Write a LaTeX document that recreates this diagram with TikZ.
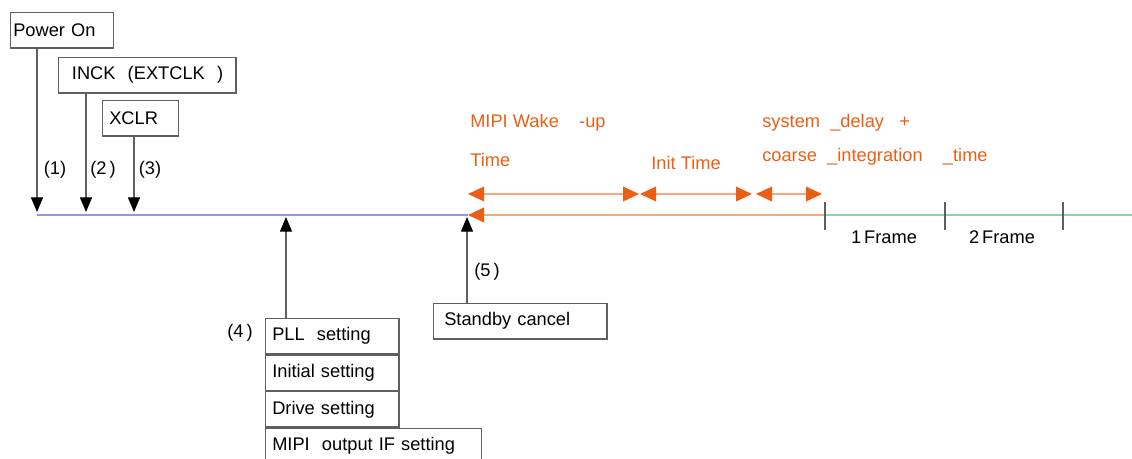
\documentclass[tikz,border=0pt]{standalone}
\usepackage{fontspec}
\setmainfont{Liberation Sans}
\usepackage{xcolor}
\usepackage{tikz}
\usetikzlibrary{positioning, arrows.meta}

\definecolor{lineblue}{RGB}{150,150,225}
\definecolor{lineorange}{RGB}{245,170,135}
\definecolor{linegreen}{RGB}{140,210,170}
\definecolor{darkorange}{RGB}{235,95,20}
\definecolor{boxgray}{RGB}{95,95,95}

\begin{document}
\begin{tikzpicture}[x=0.75pt, y=-0.75pt, font=\fontsize{13.7}{16}\selectfont,
    box/.style={draw=boxgray, line width=0.9pt, anchor=north west, inner xsep=5pt, inner ysep=0pt, minimum height=26.5pt, align=left},
    sig/.style={draw=boxgray, line width=0.9pt, -{Triangle[length=11pt,width=9pt,color=black]}},
    span/.style={draw=lineorange, line width=1pt, {Triangle[length=12pt,width=11pt,color=darkorange]}-{Triangle[length=12pt,width=11pt,color=darkorange]}},
    olabel/.style={text=darkorange, anchor=west, inner sep=0pt}]
       \useasboundingbox (0,0) rectangle (1132,458);
       \clip (0,0) rectangle (1132,458);

       % timeline
       \coordinate (t0) at (37,215);
       \coordinate (wake) at (468,215);
       \coordinate (f0) at (825,215);
       \coordinate (f1) at (945,215);
       \coordinate (f2) at (1063,215);
       \coordinate (tend) at (1132,215);
       \draw[lineblue, line width=1.2pt] (t0) -- (wake);
       \draw[lineorange, line width=1.2pt, {Triangle[length=12pt,width=11pt,color=darkorange]}-] (wake) -- (f0);
       \draw[linegreen, line width=1.2pt] (f0) -- (tend);
       \foreach \t in {f0,f1,f2}
           \draw[boxgray, line width=0.8pt] (\t) ++(0,-13) -- ++(0,28);
       \node (fr1) at (884,237) {1\,Frame};
       \node (fr2) at (1002,237) {2\,Frame};

       % inputs from above
       \node[box, text width=73pt, inner xsep=2pt] (pon) at (10,12) {Power On};
       \node[box, text width=123pt] (inck) at (58,57) {\hspace{5pt}INCK\ \ (EXTCLK\ \ )};
       \node[box, text width=47pt] (xclr) at (102,100) {XCLR};
       \coordinate (a1) at (37,212);
       \coordinate (a2) at (86,212);
       \coordinate (a3) at (134,212);
       \draw[sig] (pon.south -| a1) -- (a1);
       \draw[sig] (inck.south -| a2) -- (a2);
       \draw[sig] (xclr.south -| a3) -- (a3);
       \node (n1) at (55,170) {(1)};
       \node (n2) at (103,170) {(2\,)};
       \node (n3) at (150,170) {(3)};

       % settings from below
       \node[box, text width=90pt] (pll) at (265,318) {PLL\ \ setting};
       \node[box, text width=90pt, below=0pt of pll] (initset) {Initial setting};
       \node[box, text width=90pt, below=0pt of initset] (drive) {Drive setting};
       \node[box, text width=152pt] (mipi) at (drive.south west) {MIPI\ \ output IF setting};
       \node[box, text width=120pt] (stby) at (433,303) {\hspace{3pt}Standby cancel};
       \coordinate (a4) at (286,217);
       \coordinate (a5) at (467,217);
       \draw[sig] (pll.north -| a4) -- (a4);
       \draw[sig] (stby.north -| a5) -- (a5);
       \node (n4) at (240,333) {(4\,)};
       \node (n5) at (487,272) {(5\,)};

       % timing spans
       \coordinate (s0) at (468,194);
       \coordinate (s1) at (639,194);
       \coordinate (s2) at (640,194);
       \coordinate (s3) at (752,194);
       \coordinate (s4) at (756,194);
       \coordinate (s5) at (822,194);
       \draw[span] (s0) -- (s1);
       \draw[span] (s2) -- (s3);
       \draw[span] (s4) -- (s5);
       \node[olabel] (wk1) at (470,123) {MIPI Wake\ \ \ \ -up};
       \node[olabel] (wk2) at (470,160) {Time};
       \node[olabel, anchor=center] (init) at (686,163) {Init Time};
       \node[olabel] (sd1) at (762,123) {system\ \ \_delay\ \ \ +};
       \node[olabel] (sd2) at (762,157) {coarse\ \ \_integration\ \ \ \ \_time};
    \end{tikzpicture}
\end{document}
